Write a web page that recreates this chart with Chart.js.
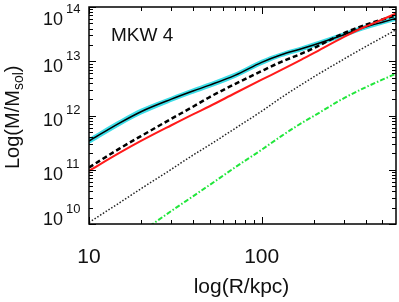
<!DOCTYPE html>
<html>
<head>
<meta charset="UTF-8">
<script src="https://cdn.jsdelivr.net/npm/chart.js@4.4.0/dist/chart.umd.min.js"></script>
<style>
  html, body { margin: 0; padding: 0; background: #fff; }
  canvas { display: block; }
</style>
</head>
<body>
<canvas id="myChart" width="399" height="302"></canvas>
<script>
// radius in kpc
var radius = [10, 15, 20, 30, 40, 50, 70, 100, 130, 170, 200, 300, 400, 500, 600];

// masses in M_sol
var totalMass = [3.39e11, 7.24e11, 1.175e12, 2.0e12, 2.82e12, 3.63e12, 5.5e12, 9.55e12, 1.32e13, 1.70e13, 2.0e13, 3.09e13, 4.27e13, 5.25e13, 6.17e13];
var totalHi   = [3.72e11, 7.94e11, 1.29e12, 2.16e12, 3.05e12, 3.94e12, 5.96e12, 1.035e13, 1.41e13, 1.82e13, 2.14e13, 3.31e13, 4.57e13, 5.62e13, 6.61e13];
var totalLo   = [3.09e11, 6.61e11, 1.07e12, 1.84e12, 2.60e12, 3.35e12, 5.07e12, 8.81e12, 1.23e13, 1.58e13, 1.86e13, 2.88e13, 3.98e13, 4.90e13, 5.75e13];
var dashedMass = [1.10e11, 2.45e11, 4.17e11, 8.71e11, 1.45e12, 2.19e12, 3.80e12, 6.61e12, 9.77e12, 1.38e13, 1.74e13, 3.31e13, 4.68e13, 5.89e13, 6.92e13];
var redMass    = [9.55e10, 2.04e11, 3.39e11, 6.61e11, 1.05e12, 1.48e12, 2.57e12, 4.57e12, 6.92e12, 1.07e13, 1.41e13, 2.82e13, 4.37e13, 5.89e13, 7.59e13];
var dottedMass = [1.07e10, 2.45e10, 4.47e10, 1.02e11, 1.86e11, 2.88e11, 5.75e11, 1.20e12, 2.14e12, 3.72e12, 5.13e12, 1.10e13, 1.86e13, 2.75e13, 3.80e13];
var greenMass  = [null, null, 7.08e9, 1.74e10, 3.24e10, 5.25e10, 1.10e11, 2.34e11, 4.17e11, 7.24e11, 9.77e11, 2.09e12, 3.31e12, 4.57e12, 5.89e12];

// axis ticks
var xMajor = [10, 100];
var xLabels = ['10', '100'];
var yMajor = [1e10, 1e11, 1e12, 1e13, 1e14];
var yExp = ['10', '11', '12', '13', '14'];

var xMinor = [];
[10, 100].forEach(function(d){ for (var k = 2; k <= 9; k++) if (k * d < 600) xMinor.push(k * d); });
var yMinor = [];
[1e10, 1e11, 1e12, 1e13].forEach(function(d){ for (var k = 2; k <= 9; k++) yMinor.push(k * d); });

function pts(arr) {
  return radius.map(function(r, i){ return {x: r, y: arr[i]}; });
}

var FONT = '"Liberation Sans", Arial, sans-serif';
var cyan = 'rgb(62,222,232)';

var axesPlugin = {
  id: 'axesPlugin',
  afterDraw: function(chart) {
    var ctx = chart.ctx, a = chart.chartArea;
    var xs = chart.scales.x, ys = chart.scales.y;
    ctx.save();
    ctx.strokeStyle = '#000';
    ctx.lineWidth = 1;
    ctx.beginPath();
    function xt(v, len) {
      var p = Math.round(xs.getPixelForValue(v)) + 0.5;
      ctx.moveTo(p, a.bottom); ctx.lineTo(p, a.bottom - len);
      ctx.moveTo(p, a.top); ctx.lineTo(p, a.top + len);
    }
    function yt(v, len) {
      var p = Math.round(ys.getPixelForValue(v)) + 0.5;
      ctx.moveTo(a.left, p); ctx.lineTo(a.left + len, p);
      ctx.moveTo(a.right, p); ctx.lineTo(a.right - len, p);
    }
    xMajor.forEach(function(v){ xt(v, 7); });
    xMinor.forEach(function(v){ xt(v, 4); });
    yMajor.forEach(function(v){ yt(v, 7); });
    yMinor.forEach(function(v){ yt(v, 4); });
    ctx.stroke();

    ctx.lineWidth = 1.5;
    ctx.strokeRect(a.left, a.top, a.right - a.left, a.bottom - a.top);

    ctx.fillStyle = '#111';
    // x tick labels
    ctx.font = '21px ' + FONT;
    ctx.textAlign = 'center';
    ctx.textBaseline = 'alphabetic';
    xMajor.forEach(function(v, i){
      ctx.fillText(xLabels[i], xs.getPixelForValue(v), 263);
    });
    // x title
    ctx.fillText('log(R/kpc)', 241.5, 293);

    // y tick labels with superscripts
    ctx.textAlign = 'left';
    yMajor.forEach(function(v, i){
      var p = ys.getPixelForValue(v);
      var base = Math.min(Math.max(p + 10.5, 25), 225);
      ctx.font = '18px ' + FONT;
      ctx.fillText('10', 43, base);
      ctx.font = '13px ' + FONT;
      ctx.fillText(yExp[i], 66, base - 12);
    });

    // y title
    ctx.save();
    ctx.translate(19, 169);
    ctx.rotate(-Math.PI / 2);
    ctx.font = '20px ' + FONT;
    var w1 = ctx.measureText('Log(M/M').width;
    ctx.fillText('Log(M/M', 0, 0);
    ctx.font = '14px ' + FONT;
    var w2 = ctx.measureText('sol').width;
    ctx.fillText('sol', w1, 4);
    ctx.font = '20px ' + FONT;
    ctx.fillText(')', w1 + w2, 0);
    ctx.restore();

    // cluster name
    ctx.font = '19px ' + FONT;
    ctx.fillText('MKW 4', 111, 41);
    ctx.restore();
  }
};

var ctx = document.getElementById('myChart').getContext('2d');
var myChart = new Chart(ctx, {
  type: 'line',
  data: {
    datasets: [
      { label: 'red', data: pts(redMass), borderColor: '#ff1a1a', borderWidth: 2 },
      { label: 'dashed', data: pts(dashedMass), borderColor: '#000', borderWidth: 2.5, borderDash: [5, 3] },
      { label: 'total', data: pts(totalMass), borderColor: '#000', borderWidth: 1.5 },
      { label: 'dotted', data: pts(dottedMass), borderColor: '#222', borderWidth: 1.5, borderDash: [1.5, 1.8] },
      { label: 'green', data: pts(greenMass), borderColor: '#22e63c', borderWidth: 2, borderDash: [5, 2, 1.5, 2] },
      { label: 'hi', data: pts(totalHi), borderColor: cyan, borderWidth: 1.5, backgroundColor: cyan, fill: '+1' },
      { label: 'lo', data: pts(totalLo), borderColor: cyan, borderWidth: 1.5 }
    ]
  },
  options: {
    responsive: false,
    animation: false,
    layout: { padding: { left: 89, right: 3, top: 7, bottom: 78 } },
    elements: {
      point: { radius: 0 },
      line: { cubicInterpolationMode: 'monotone', fill: false }
    },
    plugins: { legend: { display: false }, tooltip: { enabled: false } },
    scales: {
      x: { type: 'logarithmic', min: 10, max: 600, display: false },
      y: { type: 'logarithmic', min: 1e10, max: 1e14, display: false }
    }
  },
  plugins: [axesPlugin]
});
</script>
</body>
</html>
